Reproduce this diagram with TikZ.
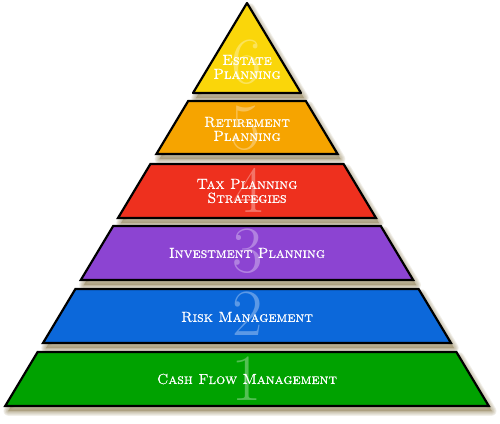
\documentclass[tikz,border=0pt]{standalone}
\usepackage{fontspec}
\newfontface\lblface{lmromancaps10-regular.otf}[FakeBold=0.7]
\definecolor{c6}{RGB}{250,214,10}
\definecolor{c5}{RGB}{246,164,0}
\definecolor{c4}{RGB}{238,48,30}
\definecolor{c3}{RGB}{140,68,210}
\definecolor{c2}{RGB}{12,104,218}
\definecolor{c1}{RGB}{0,162,0}
\definecolor{shad}{RGB}{150,135,95}
\tikzset{
  outline/.style={draw=black, line width=2.2pt, line join=miter},
  shadowblur/.style={fill=shad, draw=shad, fill opacity=0.12, draw opacity=0.12, line join=round},
  lbl/.style={text=white, font=\fontsize{14.5}{14}\lblface, align=center, inner sep=0pt},
  digit/.style={text=white, text opacity=0.33, font=\fontsize{66}{66}\selectfont, anchor=base, inner sep=0pt}
}
\newcommand\pyrlayer[3]{%
  \pgfmathsetmacro\pta{0.6*(#1-3)}%
  \pgfmathsetmacro\pba{0.6*(#2-3)}%
  \foreach \w in {1,...,6}{%
    \path[shadowblur, line width=\w*1.6pt] (247-\pta+3,#1+5) -- (247+\pta+3,#1+5) -- (247+\pba+3,#2+5) -- (247-\pba+3,#2+5) -- cycle;
  }%
  \path[outline, fill=#3] (247-\pta,#1) -- (247+\pta,#1) -- (247+\pba,#2) -- (247-\pba,#2) -- cycle;
}
\begin{document}
\begin{tikzpicture}[x=1pt, y=-1pt]
\useasboundingbox (0,0) rectangle (500,423);
% layer 6 (triangle)
\foreach \w in {1,...,6}{%
  \path[shadowblur, line width=\w*1.6pt] (250,8) -- (304,98) -- (196,98) -- cycle;
}
\path[outline, line join=round, fill=c6] (247,3) -- (301,93) -- (193,93) -- cycle;
\pyrlayer{101}{154}{c5}
\pyrlayer{164}{218}{c4}
\pyrlayer{226}{280}{c3}
\pyrlayer{289}{343}{c2}
\pyrlayer{352}{406}{c1}
% digits
\node[digit] (d6) at (247,83) {6};
\node[digit] (d5) at (246,149) {5};
\node[digit] (d4) at (249,212) {4};
\node[digit] (d3) at (248,272) {3};
\node[digit] (d2) at (248,335) {2};
\node[digit] (d1) at (247,400) {1};
% labels
\node[lbl] (t6) at (247,67) {Estate\\Planning};
\node[lbl] (t5) at (247,129) {Retirement\\Planning};
\node[lbl] (t4) at (247,191) {Tax Planning\\Strategies};
\node[lbl] (t3) at (247,253) {Investment Planning};
\node[lbl] (t2) at (247,317) {Risk Management};
\node[lbl] (t1) at (247,379) {Cash Flow Management};
\end{tikzpicture}
\end{document}
